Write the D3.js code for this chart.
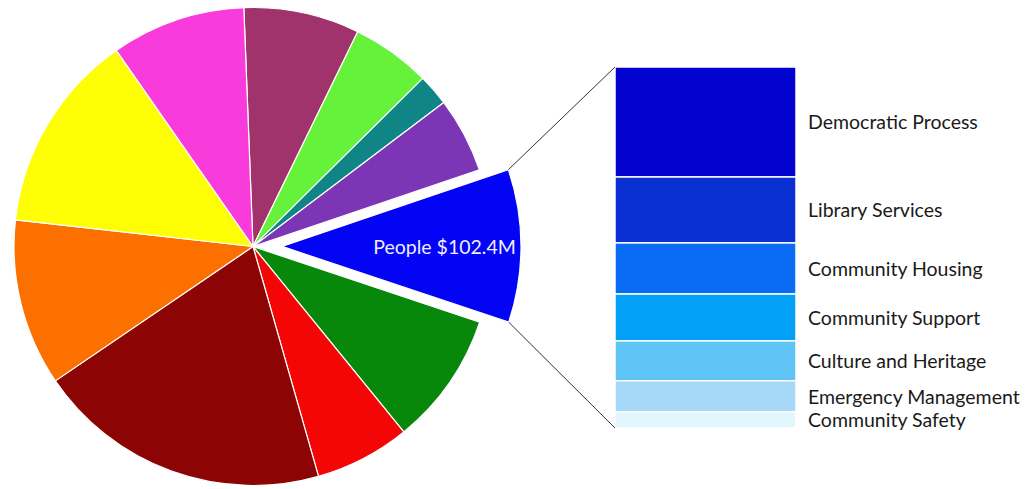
<!DOCTYPE html>
<html>
<head>
<meta charset="utf-8">
<script src="https://cdn.jsdelivr.net/npm/d3@7"></script>
<style>
  html, body { margin: 0; padding: 0; background: #fff; }
  svg { display: block; }
  text { font-family: Lato, "Open Sans", sans-serif; }
</style>
</head>
<body>
<svg id="chart" width="1028" height="489"></svg>
<script>
// Budget by area ($M), clockwise from the top of the pie
const sliceValues = [77.6, 53.1, 21.2, 50.4, 102.4, 89.2, 63.9, 197.4, 111.8, 134.1, 90.0];
const sliceLabels = ["", "", "", "", "People", "", "", "", "", "", ""];
const sliceColors = ["#a1336c", "#66f23a", "#0f8585", "#7b35b5", "#0303f5", "#07880b",
                     "#f50606", "#8c0404", "#fc7000", "#fefe05", "#f93bdc"];
const explodedIndex = 4;

// Breakdown of the exploded slice ($M), top to bottom
const detailLabels = ["Democratic Process", "Library Services", "Community Housing",
                      "Community Support", "Culture and Heritage", "Emergency Management",
                      "Community Safety"];
const detailValues = [31.2, 18.7, 14.5, 13.3, 11.3, 8.8, 4.6];
const detailColors = ["#0303cf", "#0a2fd2", "#0a6cf5", "#02a0f6", "#5fc3f5", "#a6d8f8", "#e2f6fd"];

const svg = d3.select("#chart");
const cx = 253, cy = 246.5, radius = 239, explode = 29;
const startOffset = -2.2 * Math.PI / 180;

const pie = d3.pie().sort(null)
  .startAngle(startOffset).endAngle(startOffset + 2 * Math.PI);
const arcs = pie(sliceValues);
const arc = d3.arc().innerRadius(0).outerRadius(radius);
const labelArc = d3.arc().innerRadius(radius * 0.68).outerRadius(radius * 0.68);

const shift = d => {
  if (d.index !== explodedIndex) return [0, 0];
  const mid = (d.startAngle + d.endAngle) / 2;
  return [Math.sin(mid) * explode, -Math.cos(mid) * explode];
};

const g = svg.append("g").attr("transform", `translate(${cx},${cy})`);

g.selectAll("path.slice")
  .data(arcs)
  .join("path")
  .attr("class", "slice")
  .attr("transform", d => `translate(${shift(d)})`)
  .attr("d", arc)
  .attr("fill", (d, i) => sliceColors[i])
  .attr("stroke", "#fff")
  .attr("stroke-width", 1.2)
  .attr("stroke-linejoin", "round");

g.selectAll("text.slice-label")
  .data(arcs.filter((d, i) => sliceLabels[i]))
  .join("text")
  .attr("class", "slice-label")
  .attr("transform", d => {
    const [sx, sy] = shift(d);
    const [lx, ly] = labelArc.centroid(d);
    return `translate(${lx + sx},${ly + sy})`;
  })
  .attr("text-anchor", "middle")
  .attr("dominant-baseline", "central")
  .attr("fill", "#eef")
  .attr("font-size", 19.5)
  .text(d => `${sliceLabels[d.index]} $${d.value.toFixed(1)}M`);

// Stacked breakdown bar
const barX = 615, barW = 181, barTop = 67, barBottom = 428;
const total = d3.sum(detailValues);
const y = d3.scaleLinear().domain([0, total]).range([barTop, barBottom]);
const cum = d3.cumsum(detailValues);
const stack = detailValues.map((v, i) => ({ y0: cum[i] - v, y1: cum[i], i }));

svg.selectAll("rect.seg")
  .data(stack)
  .join("rect")
  .attr("class", "seg")
  .attr("x", barX)
  .attr("y", d => y(d.y0))
  .attr("width", barW)
  .attr("height", d => y(d.y1) - y(d.y0))
  .attr("fill", d => detailColors[d.i])
  .attr("stroke", "#fff")
  .attr("stroke-width", 1.5);

svg.selectAll("text.seg-label")
  .data(stack)
  .join("text")
  .attr("class", "seg-label")
  .attr("x", 808)
  .attr("y", d => (y(d.y0) + y(d.y1)) / 2)
  .attr("dominant-baseline", "central")
  .attr("fill", "#1a1a1a")
  .attr("font-size", 19.5)
  .text(d => detailLabels[d.i]);

// Connectors from the exploded slice to the bar
const ex = arcs[explodedIndex];
const [ox, oy] = shift(ex);
const corner = a => [cx + ox + Math.sin(a) * radius, cy + oy - Math.cos(a) * radius];
const c0 = corner(ex.startAngle), c1 = corner(ex.endAngle);
svg.append("line")
  .attr("x1", c0[0]).attr("y1", c0[1]).attr("x2", barX).attr("y2", barTop)
  .attr("stroke", "#333").attr("stroke-width", 1);
svg.append("line")
  .attr("x1", c1[0]).attr("y1", c1[1]).attr("x2", barX).attr("y2", barBottom)
  .attr("stroke", "#333").attr("stroke-width", 1);
</script>
</body>
</html>
